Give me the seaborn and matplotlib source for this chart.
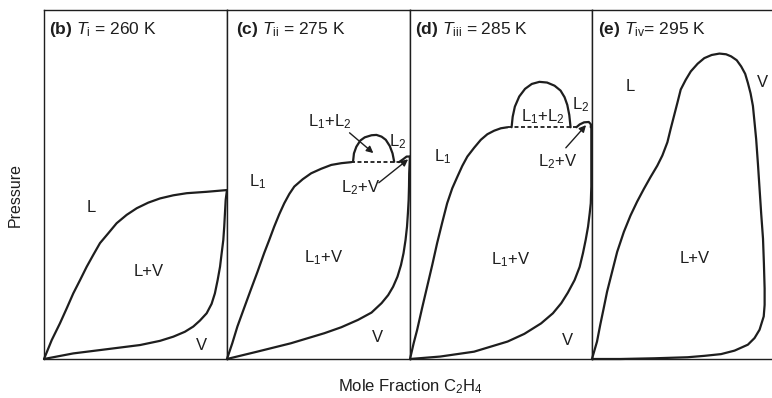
import matplotlib
matplotlib.use("Agg")
import matplotlib.pyplot as plt
import seaborn as sns

# ---- curve data (x = mole fraction, y = pressure, both 0..1 per panel)

# (b) T_i = 260 K
b_bubble_x = [0.0, 0.042, 0.087, 0.124, 0.160, 0.197, 0.233, 0.269, 0.306, 0.351,
              0.397, 0.452, 0.507, 0.570, 0.634, 0.707, 0.780, 0.889, 1.0]
b_bubble_y = [0.0, 0.054, 0.102, 0.145, 0.188, 0.226, 0.264, 0.298, 0.332, 0.360,
              0.389, 0.413, 0.432, 0.448, 0.460, 0.469, 0.475, 0.479, 0.484]
b_dew_x = [0.0, 0.160, 0.343, 0.525, 0.634, 0.707, 0.770, 0.816, 0.852, 0.889,
           0.916, 0.934, 0.949, 0.962, 0.971, 0.980, 0.985, 0.989, 0.993, 1.0]
b_dew_y = [0.0, 0.016, 0.028, 0.040, 0.052, 0.064, 0.078, 0.093, 0.110, 0.131,
           0.158, 0.188, 0.226, 0.264, 0.303, 0.341, 0.379, 0.418, 0.456, 0.484]

# (c) T_ii = 275 K
c_bubble_x = [0.0, 0.029, 0.057, 0.093, 0.130, 0.167, 0.203, 0.231, 0.258, 0.286,
              0.313, 0.341, 0.368, 0.414, 0.460, 0.515, 0.570, 0.625, 0.680]
c_bubble_y = [0.0, 0.045, 0.093, 0.145, 0.198, 0.250, 0.303, 0.341, 0.379, 0.415,
              0.446, 0.473, 0.494, 0.515, 0.532, 0.545, 0.556, 0.561, 0.564]
c_dome_x = [0.689, 0.694, 0.707, 0.729, 0.753, 0.790, 0.817, 0.845, 0.868, 0.890, 0.905, 0.914]
c_dome_y = [0.565, 0.589, 0.608, 0.626, 0.635, 0.641, 0.642, 0.637, 0.628, 0.610, 0.589, 0.565]
c_tie_x = [0.680, 0.955]
c_tie_y = [0.564, 0.564]
c_l2_x = [0.94, 0.962, 0.982, 1.0]
c_l2_y = [0.564, 0.572, 0.580, 0.580]
c_dew_x = [0.0, 0.165, 0.349, 0.533, 0.625, 0.716, 0.790, 0.845, 0.881, 0.908,
           0.932, 0.951, 0.965, 0.976, 0.984, 0.989, 0.993, 0.995, 0.996, 1.0]
c_dew_y = [0.0, 0.021, 0.045, 0.074, 0.091, 0.112, 0.133, 0.160, 0.183, 0.207,
           0.236, 0.269, 0.303, 0.341, 0.379, 0.418, 0.456, 0.494, 0.532, 0.580]

# (d) T_iii = 285 K
d_bubble_x = [0.0, 0.020, 0.039, 0.066, 0.094, 0.122, 0.149, 0.177, 0.204, 0.232,
              0.260, 0.287, 0.315, 0.352, 0.389, 0.425, 0.462, 0.499, 0.536]
d_bubble_y = [0.0, 0.045, 0.083, 0.145, 0.207, 0.269, 0.332, 0.391, 0.446, 0.489,
              0.522, 0.553, 0.580, 0.605, 0.628, 0.644, 0.654, 0.661, 0.664]
d_dome_x = [0.558, 0.564, 0.576, 0.600, 0.632, 0.669, 0.711, 0.753, 0.794, 0.827,
            0.849, 0.864, 0.875, 0.882]
d_dome_y = [0.664, 0.694, 0.723, 0.752, 0.774, 0.788, 0.794, 0.792, 0.783, 0.769,
            0.750, 0.728, 0.699, 0.664]
d_tie_x = [0.536, 0.92]
d_tie_y = [0.664, 0.664]
d_l2_x = [0.914, 0.932, 0.956, 0.982, 0.994, 0.993]
d_l2_y = [0.664, 0.672, 0.678, 0.679, 0.672, 0.664]
d_dew_x = [0.0, 0.166, 0.352, 0.536, 0.628, 0.720, 0.785, 0.831, 0.867, 0.904,
           0.932, 0.950, 0.965, 0.978, 0.987, 0.993, 0.996, 0.996, 0.996, 0.996]
d_dew_y = [0.0, 0.007, 0.021, 0.050, 0.072, 0.102, 0.131, 0.160, 0.190, 0.226,
           0.264, 0.303, 0.341, 0.379, 0.417, 0.446, 0.494, 0.542, 0.599, 0.666]

# (e) T_iv = 295 K, one closed envelope
e_env_x = [0.0, 0.028, 0.046, 0.065, 0.084, 0.112, 0.140, 0.177, 0.214, 0.251,
           0.288, 0.325, 0.363, 0.391, 0.419, 0.437, 0.456, 0.475, 0.493, 0.521,
           0.549, 0.587, 0.624, 0.665, 0.708, 0.745, 0.773, 0.804, 0.829, 0.851,
           0.866, 0.881, 0.894, 0.903, 0.912, 0.922, 0.931, 0.940, 0.950, 0.955,
           0.959, 0.959, 0.954, 0.931, 0.903, 0.866, 0.792, 0.717, 0.624, 0.531,
           0.345, 0.158, 0.0]
e_env_y = [0.0, 0.050, 0.098, 0.145, 0.193, 0.250, 0.307, 0.364, 0.411, 0.451,
           0.487, 0.521, 0.554, 0.583, 0.621, 0.659, 0.697, 0.735, 0.772, 0.800,
           0.824, 0.846, 0.862, 0.871, 0.875, 0.873, 0.867, 0.856, 0.838, 0.817,
           0.791, 0.761, 0.725, 0.678, 0.630, 0.558, 0.487, 0.416, 0.345, 0.274,
           0.202, 0.155, 0.122, 0.084, 0.060, 0.041, 0.024, 0.014, 0.009, 0.005,
           0.002, 0.0, 0.0]

titles = [r"$\mathbf{(b)}$ $T_{\mathrm{i}}$ = 260 K",
          r"$\mathbf{(c)}$ $T_{\mathrm{ii}}$ = 275 K",
          r"$\mathbf{(d)}$ $T_{\mathrm{iii}}$ = 285 K",
          r"$\mathbf{(e)}$ $T_{\mathrm{iv}}$= 295 K"]

INK = "#1e1e1e"

sns.set_theme(style="white")
plt.rcParams["font.family"] = ["Liberation Sans", "DejaVu Sans"]
plt.rcParams["mathtext.fontset"] = "custom"
plt.rcParams["mathtext.rm"] = "Liberation Sans"
plt.rcParams["mathtext.it"] = "Liberation Sans:italic"
plt.rcParams["mathtext.bf"] = "Liberation Sans:bold"

fig = plt.figure(figsize=(7.72, 3.98), dpi=100)

# panel boxes in figure fractions (left, width)
bottom, height = 0.098, 0.877
boxes = [(0.0570, 0.2370), (0.2940, 0.2370), (0.5311, 0.2358), (0.7668, 0.2332)]
axes = []
for left, width in boxes:
    ax = fig.add_axes([left, bottom, width, height])
    ax.set_xlim(0, 1)
    ax.set_ylim(0, 1)
    ax.set_xticks([])
    ax.set_yticks([])
    for s in ax.spines.values():
        s.set_color(INK)
        s.set_linewidth(1.0)
    axes.append(ax)
axes[3].spines["right"].set_visible(False)


def curve(ax, x, y, dashed=False):
    sns.lineplot(x=x, y=y, sort=False, estimator=None, ax=ax, color=INK,
                 linewidth=1.3 if dashed else 1.6,
                 linestyle=(0, (2.2, 1.4)) if dashed else "-")
    ax.lines[-1].set_clip_on(False)
    ax.lines[-1].set_solid_joinstyle("round")


def label(ax, x, y, s, size=12):
    ax.text(x, y, s, ha="center", va="center", fontsize=size, color=INK)


def arrow(ax, tail, head):
    ax.annotate("", xy=head, xytext=tail,
                arrowprops=dict(arrowstyle="-|>", color=INK, lw=1.0,
                                mutation_scale=10, shrinkA=0, shrinkB=0))


title_x = [0.027, 0.049, 0.028, 0.033]
for ax, t, tx in zip(axes, titles, title_x):
    ax.text(tx, 0.943, t, ha="left", va="center", fontsize=12.5, color=INK)

# (b)
ax = axes[0]
curve(ax, b_bubble_x, b_bubble_y)
curve(ax, b_dew_x, b_dew_y)
label(ax, 0.26, 0.433, "L")
label(ax, 0.57, 0.25, "L+V")
label(ax, 0.86, 0.04, "V")

# (c)
ax = axes[1]
curve(ax, c_bubble_x, c_bubble_y)
curve(ax, c_dome_x, c_dome_y)
curve(ax, c_tie_x, c_tie_y, dashed=True)
curve(ax, c_l2_x, c_l2_y)
curve(ax, c_dew_x, c_dew_y)
label(ax, 0.165, 0.507, r"L$_1$")
label(ax, 0.53, 0.289, r"L$_1$+V")
label(ax, 0.824, 0.063, "V")
label(ax, 0.56, 0.679, r"L$_1$+L$_2$")
label(ax, 0.935, 0.622, r"L$_2$")
label(ax, 0.73, 0.49, r"L$_2$+V")
arrow(ax, (0.67, 0.648), (0.80, 0.590))
arrow(ax, (0.83, 0.505), (0.99, 0.572))

# (d)
ax = axes[2]
curve(ax, d_bubble_x, d_bubble_y)
curve(ax, d_dome_x, d_dome_y)
curve(ax, d_tie_x, d_tie_y, dashed=True)
curve(ax, d_l2_x, d_l2_y)
curve(ax, d_dew_x, d_dew_y)
label(ax, 0.177, 0.579, r"L$_1$")
label(ax, 0.552, 0.284, r"L$_1$+V")
label(ax, 0.867, 0.054, "V")
label(ax, 0.729, 0.693, r"L$_1$+L$_2$")
label(ax, 0.939, 0.728, r"L$_2$")
label(ax, 0.812, 0.566, r"L$_2$+V")
arrow(ax, (0.856, 0.605), (0.967, 0.670))

# (e)
ax = axes[3]
curve(ax, e_env_x, e_env_y)
label(ax, 0.212, 0.781, "L")
label(ax, 0.945, 0.792, "V")
label(ax, 0.57, 0.288, "L+V")

fig.text(15 / 772, 0.51, "Pressure", rotation=90, ha="center", va="center",
         fontsize=11.5, color=INK)
fig.text(0.531, 0.028, r"Mole Fraction C$_2$H$_4$", ha="center", va="center",
         fontsize=12, color=INK)

fig.savefig("out.png", dpi=100)
